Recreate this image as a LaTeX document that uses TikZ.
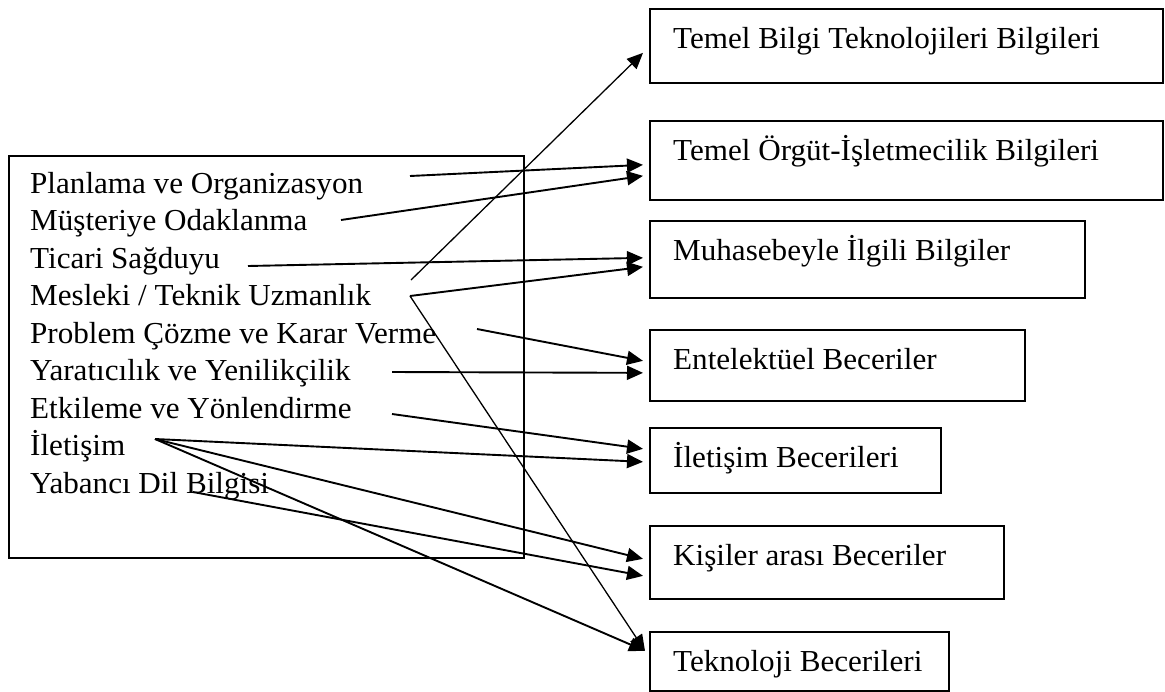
\documentclass[tikz,border=0pt]{standalone}
\usepackage{fontspec}
\setmainfont{Liberation Serif}[FakeStretch=1.02]
\usetikzlibrary{arrows.meta,calc}

\begin{document}
\begin{tikzpicture}[
  x=1pt,y=-1pt,
  font=\fontsize{30.5}{37.5}\selectfont,
  box/.style={draw,line width=1.7pt,anchor=north west,inner sep=0pt},
  item/.style={anchor=base west,inner sep=0pt},
  lbl/.style={anchor=base west,inner sep=0pt},
  arr/.style={-{Triangle[length=16pt,width=14pt]},line width=1.9pt},
  arrthin/.style={arr,line width=1.3pt}
]
\useasboundingbox (0,0) rectangle (1165,691);

% ---------- Left: competences
\node[box,minimum width=515pt,minimum height=402pt] (comp) at (8,155) {};
\foreach \i/\t in {0/Planlama ve Organizasyon, 1/Müşteriye Odaklanma, 2/Ticari Sağduyu,
  3/{Mesleki / Teknik Uzmanlık}, 4/Problem Çözme ve Karar Verme, 5/Yaratıcılık ve Yenilikçilik,
  6/Etkileme ve Yönlendirme, 7/İletişim, 8/Yabancı Dil Bilgisi}{
  \node[item] (s\i) at (30,193+37.5*\i) {\t};
}

% ---------- Right: knowledge and skills
\foreach \n/\y/\w/\h/\t in {b1/8/513/74/Temel Bilgi Teknolojileri Bilgileri,
  b2/120/513/79/Temel Örgüt-İşletmecilik Bilgileri, b3/220/435/77/Muhasebeyle İlgili Bilgiler,
  b4/329/375/71/Entelektüel Beceriler, b5/427/291/65/İletişim Becerileri,
  b6/525/354/73/Kişiler arası Beceriler, b7/631/299/59/Teknoloji Becerileri}{
  \node[box,minimum width=\w pt,minimum height=\h pt] (\n) at (649,\y) {};
  \node[lbl] (\n t) at ($(\n.north west)+(24,40)$) {\t};
}

% ---------- start points of the connectors
\coordinate (pl) at (410,176);
\coordinate (mu) at (341,220);
\coordinate (ti) at (248,266);
\coordinate (mea) at (411,280);
\coordinate (me) at (410,296);
\coordinate (pr) at (477,329);
\coordinate (ya) at (392,372);
\coordinate (et) at (392,414);
\coordinate (il) at (155,439);
\coordinate (yd) at (193,492);

% ---------- connectors
\draw[arr] (pl) -- ($(b2.west)+(-6,4.5)$);
\draw[arr] (mu) -- ($(b2.west)+(-6,15.5)$);
\draw[arr] (ti) -- ($(b3.west)+(-6,-1.5)$);
\draw[arrthin] (mea) -- ($(b1.west)+(-6,7)$);
\draw[arr] (me) -- ($(b3.west)+(-6,7.5)$);
\draw[arrthin] (me) -- ($(b7.west)+(-4,-10.5)$);
\draw[arr] (pr) -- ($(b4.west)+(-6,-4.5)$);
\draw[arr] (ya) -- ($(b4.west)+(-6,7.5)$);
\draw[arr] (et) -- ($(b5.west)+(-6,-11.5)$);
\draw[arr] (il) -- ($(b5.west)+(-6,1.5)$);
\draw[arr] (il) -- ($(b6.west)+(-6,-3.5)$);
\draw[arr] (il) -- ($(b7.west)+(-4,-10.5)$);
\draw[arr] (yd) -- ($(b6.west)+(-6,13.5)$);
\end{tikzpicture}
\end{document}
